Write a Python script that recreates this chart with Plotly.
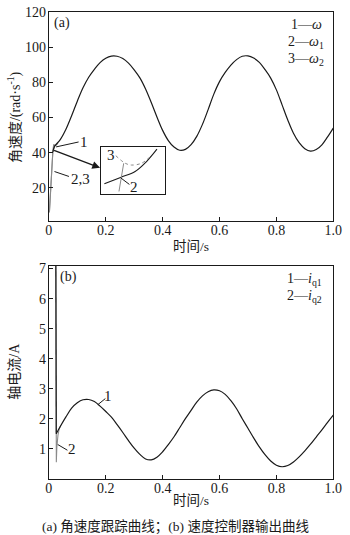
import plotly.graph_objects as go

# ---- (a) angular speed tracking ----
t_w = [0.014, 0.020, 0.040, 0.060, 0.080, 0.100, 0.120, 0.140, 0.160, 0.180,
       0.200, 0.220, 0.240, 0.260, 0.280, 0.300, 0.320, 0.340, 0.360, 0.380,
       0.400, 0.420, 0.440, 0.460, 0.480, 0.500, 0.520, 0.540, 0.560, 0.580,
       0.600, 0.620, 0.640, 0.660, 0.680, 0.700, 0.720, 0.740, 0.760, 0.780,
       0.800, 0.820, 0.840, 0.860, 0.880, 0.900, 0.920, 0.940, 0.960, 0.980,
       1.000]
w = [40.5, 43.6, 47.4, 53.3, 61.0, 69.3, 76.9, 82.9, 87.4, 91.2,
     93.7, 94.9, 94.8, 93.5, 90.9, 87.1, 82.5, 76.2, 68.5, 60.3,
     52.7, 46.9, 43.2, 41.4, 41.9, 44.6, 49.3, 56.1, 64.5, 73.3,
     80.4, 85.6, 89.8, 92.9, 94.8, 95.0, 93.8, 91.3, 87.2, 82.4,
     75.7, 67.2, 58.6, 51.1, 45.7, 42.3, 40.9, 41.8, 44.5, 49.0,
     54.0]
t_w1 = [0.002, 0.008, 0.014, 0.019]
w1 = [6.0, 25.0, 40.5, 43.2]
t_w2 = [0.002, 0.008, 0.014, 0.017, 0.021, 0.026, 0.032]
w2 = [7.0, 26.0, 41.0, 44.8, 44.0, 44.3, 45.5]

# enlarged view around the start-up transient
zt_w = [0.0130, 0.0181, 0.0227, 0.0263, 0.0296]
zw = [39.7, 40.8, 41.8, 43.5, 45.6]
zt_w1 = [0.0176, 0.0191]
zw1 = [38.4, 43.2]
zt_w2 = [0.0166, 0.0196, 0.0216, 0.0247, 0.0272]
zw2 = [44.5, 43.2, 42.9, 43.2, 44.2]

# ---- (b) speed controller output ----
t_i = [0.0245, 0.0250, 0.0260, 0.040, 0.060, 0.080, 0.100, 0.120, 0.140, 0.160,
       0.180, 0.200, 0.220, 0.240, 0.260, 0.280, 0.300, 0.320, 0.340, 0.360,
       0.380, 0.400, 0.420, 0.440, 0.460, 0.480, 0.500, 0.520, 0.540, 0.560,
       0.580, 0.600, 0.620, 0.640, 0.660, 0.680, 0.700, 0.720, 0.740, 0.760,
       0.780, 0.800, 0.820, 0.840, 0.860, 0.880, 0.900, 0.920, 0.940, 0.960,
       0.980, 1.000]
iq1 = [7.3, 3.0, 1.50, 1.74, 2.06, 2.35, 2.53, 2.63, 2.64, 2.57,
       2.42, 2.24, 2.05, 1.80, 1.54, 1.27, 1.02, 0.81, 0.66, 0.63,
       0.72, 0.90, 1.14, 1.40, 1.70, 2.00, 2.28, 2.55, 2.76, 2.90,
       2.96, 2.93, 2.81, 2.60, 2.33, 2.00, 1.68, 1.36, 1.06, 0.80,
       0.59, 0.45, 0.40, 0.44, 0.56, 0.73, 0.93, 1.15, 1.39, 1.63,
       1.88, 2.12]
t_i2 = [0.0245, 0.0252, 0.0262, 0.0280, 0.0320, 0.0360, 0.0420]
iq2 = [7.3, 2.3, 0.55, 1.05, 1.45, 1.65, 1.78]

x_ticks = [0, 0.2, 0.4, 0.6, 0.8, 1.0]
x_labels = ["0", "0.2", "0.4", "0.6", "0.8", "1.0"]
w_ticks = [20, 40, 60, 80, 100, 120]
i_ticks = [1, 2, 3, 4, 5, 6, 7]

SERIF = '"Liberation Serif", "Times New Roman", "Noto Sans CJK SC", serif'
CJK = '"Liberation Serif", "Noto Sans CJK SC", sans-serif'
BLACK = "#1a1a1a"
GRAY = "#8a8a8a"

fig = go.Figure()
fig.add_trace(go.Scatter(x=t_w1, y=w1, mode="lines", line=dict(color=GRAY, width=1.1),
                         xaxis="x", yaxis="y"))
fig.add_trace(go.Scatter(x=t_w2, y=w2, mode="lines", line=dict(color=GRAY, width=1.1),
                         xaxis="x", yaxis="y"))
fig.add_trace(go.Scatter(x=t_w, y=w, mode="lines", line=dict(color=BLACK, width=1.2, shape="spline"),
                         xaxis="x", yaxis="y"))

fig.add_trace(go.Scatter(x=zt_w, y=zw, mode="lines", line=dict(color=BLACK, width=1.1, shape="spline"),
                         xaxis="x3", yaxis="y3"))
fig.add_trace(go.Scatter(x=zt_w1, y=zw1, mode="lines", line=dict(color=GRAY, width=1.0),
                         xaxis="x3", yaxis="y3"))
fig.add_trace(go.Scatter(x=zt_w2, y=zw2, mode="lines", line=dict(color=GRAY, width=1.0, dash="dot", shape="spline"),
                         xaxis="x3", yaxis="y3"))

fig.add_trace(go.Scatter(x=t_i2, y=iq2, mode="lines", line=dict(color=GRAY, width=1.1),
                         xaxis="x2", yaxis="y2"))
# switching spike drawn straight, the rest of the response smoothed
fig.add_trace(go.Scatter(x=t_i[:3], y=iq1[:3], mode="lines", line=dict(color=BLACK, width=1.2),
                         xaxis="x2", yaxis="y2"))
fig.add_trace(go.Scatter(x=t_i[2:], y=iq1[2:], mode="lines", line=dict(color=BLACK, width=1.2, shape="spline"),
                         xaxis="x2", yaxis="y2"))

axis_common = dict(showline=True, linecolor=BLACK, linewidth=1.2, mirror=True,
                   ticks="inside", ticklen=4, tickcolor=BLACK, tickwidth=1,
                   showgrid=False, zeroline=False, ticklabeloverflow="allow",
                   tickfont=dict(family=SERIF, size=14, color=BLACK))

H = 535.0
fig.update_layout(
    width=350, height=535, margin=dict(l=0, r=0, t=0, b=0),
    paper_bgcolor="white", plot_bgcolor="white", showlegend=False,
    xaxis=dict(domain=[47.5 / 350, 342 / 350], range=[0, 1], tickvals=x_ticks, ticktext=x_labels,
               anchor="y", ticklabelstandoff=-4, **axis_common),
    yaxis=dict(domain=[1 - 217 / H, 1 - 5 / H], range=[1.1, 120], tickvals=w_ticks,
               anchor="x", ticklabelstandoff=-1, **axis_common),
    xaxis2=dict(domain=[47.5 / 350, 342 / 350], range=[0, 1], tickvals=x_ticks, ticktext=x_labels,
                anchor="y2", ticklabelstandoff=-4, **axis_common),
    yaxis2=dict(domain=[1 - 478 / H, 1 - 262 / H], range=[0, 7.1], tickvals=i_ticks,
                anchor="x2", ticklabelstandoff=-1, **axis_common),
    xaxis3=dict(domain=[101.7 / 350, 167.3 / 350], range=[0.012, 0.032], showticklabels=False,
                ticks="", showline=True, linecolor=BLACK, linewidth=1, mirror=True,
                showgrid=False, zeroline=False, anchor="y3"),
    yaxis3=dict(domain=[1 - 189.3 / H, 1 - 141.7 / H], range=[38, 46], showticklabels=False,
                ticks="", showline=True, linecolor=BLACK, linewidth=1, mirror=True,
                showgrid=False, zeroline=False, anchor="x3"),
)


def txt(s, x, y, size=13, xanchor="center", family=SERIF, **kw):
    return dict(text=s, x=x, y=y, xref="paper", yref="paper", showarrow=False,
                xanchor=xanchor, yanchor="middle",
                font=dict(family=family, size=size, color=BLACK), **kw)


def lab(s, x, y, xr, yr):
    return dict(text=s, x=x, y=y, xref=xr, yref=yr, showarrow=False,
                font=dict(family=SERIF, size=15, color=BLACK))


ann = [
    txt("(a)", 61 / 350, 1 - 16 / H, 14),
    txt("(b)", 68 / 350, 1 - 274 / H, 14),
    txt("1—<i>ω</i>", 332 / 350, 1 - 18 / H, 14, "right"),
    txt("2—<i>ω</i><sub>1</sub>", 334 / 350, 1 - 36 / H, 14, "right"),
    txt("3—<i>ω</i><sub>2</sub>", 334 / 350, 1 - 53 / H, 14, "right"),
    txt("1—<i>i</i><sub>q1</sub>", 332 / 350, 1 - 276 / H, 14, "right"),
    txt("2—<i>i</i><sub>q2</sub>", 332 / 350, 1 - 293 / H, 14, "right"),
    txt("角速度/(rad·s<sup>-1</sup>)", 12 / 350, 1 - 112 / H, 14, family=CJK, textangle=-90),
    txt("轴电流/A", 12 / 350, 1 - 369 / H, 14, family=CJK, textangle=-90),
    txt("时间/s", 195 / 350, 1 - 243 / H, 13.5, family=CJK),
    txt("时间/s", 195 / 350, 1 - 500 / H, 13.5, family=CJK),
    txt("(a) 角速度跟踪曲线；(b) 速度控制器输出曲线", 179 / 350, 1 - 527 / H, 13.5, family=CJK),
    lab("1", 0.124, 46.0, "x", "y"),
    lab("2,3", 0.112, 25.2, "x", "y"),
    lab("3", 0.0150, 44.6, "x3", "y3"),
    lab("2", 0.0225, 39.2, "x3", "y3"),
    lab("1", 0.207, 2.75, "x2", "y2"),
    lab("2", 0.080, 1.0, "x2", "y2"),
    # arrow pointing to the enlarged view
    dict(text="", x=0.18, y=31.4, xref="x", yref="y", ax=-47.5, ay=-18, axref="pixel", ayref="pixel",
         showarrow=True, arrowhead=2, arrowsize=1.2, arrowwidth=1.3, arrowcolor=BLACK),
]
fig.update_layout(annotations=ann)

leader = dict(color=BLACK, width=1)
fig.update_layout(shapes=[
    dict(type="line", xref="x", yref="y", x0=0.0255, y0=43.3, x1=0.1046, y1=46.1, line=leader),
    dict(type="line", xref="x", yref="y", x0=0.0197, y0=29.3, x1=0.0706, y1=26.5, line=leader),
    dict(type="line", xref="x3", yref="y3", x0=0.0182, y0=40.7, x1=0.0209, y1=39.6, line=leader),
    dict(type="line", xref="x2", yref="y2", x0=0.1725, y0=2.47, x1=0.1986, y1=2.67, line=leader),
    dict(type="line", xref="x2", yref="y2", x0=0.0312, y0=1.14, x1=0.0652, y1=0.95, line=leader),
])

fig.write_html("out.html")
